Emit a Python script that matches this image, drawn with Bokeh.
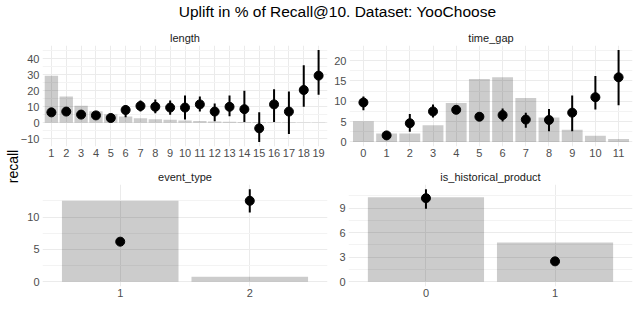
from bokeh.plotting import figure
from bokeh.layouts import column, row
from bokeh.models import FixedTicker, Range1d, ColumnDataSource
from bokeh.embed import file_html
from bokeh.resources import INLINE

FONT = "Liberation Sans"
TITLE = "Uplift in % of Recall@10. Dataset: YooChoose"
YLABEL = "recall"

# ---- panel: length
length_cats = [str(i) for i in range(1, 20)]
length_share = [29.5, 16.5, 10.7, 7.2, 5.3, 3.9, 2.8, 2.2, 1.8, 1.4, 1.1, 0.8, 0.6, 0.5, 0.4, 0.3, 0.25, 0.2, 0.15]
length_uplift = [6.5, 7.0, 5.1, 4.6, 3.0, 8.0, 10.5, 10.0, 9.5, 9.5, 11.5, 7.0, 10.0, 8.5, -3.5, 11.5, 7.0, 20.5, 29.5]
length_lo = [5.9, 6.2, 4.3, 3.8, 2.2, 3.5, 7.0, 6.0, 5.0, 2.0, 7.0, 1.0, 4.0, 0.5, -12.0, 0.5, -7.0, 10.0, 17.5]
length_hi = [7.1, 7.8, 5.9, 5.4, 3.8, 11.0, 14.0, 14.5, 14.0, 17.0, 16.5, 12.0, 17.0, 20.0, 6.5, 21.0, 19.5, 36.0, 45.5]
length_yticks = [-10, 0, 10, 20, 30, 40]
length_yminor = [-5, 5, 15, 25, 35, 45]

# ---- panel: time_gap
gap_cats = [str(i) for i in range(0, 12)]
gap_share = [5.1, 2.1, 2.1, 4.1, 9.6, 15.5, 15.9, 10.8, 6.0, 3.0, 1.5, 0.7]
gap_uplift = [9.7, 1.6, 4.6, 7.5, 7.9, 6.2, 6.6, 5.5, 5.4, 7.2, 11.0, 15.9]
gap_lo = [7.8, 0.8, 2.5, 6.0, 7.0, 5.3, 5.0, 3.5, 2.6, 2.6, 8.0, 9.0]
gap_hi = [11.2, 2.6, 6.9, 9.2, 8.6, 7.2, 8.2, 7.2, 8.1, 11.4, 16.2, 22.6]
gap_yticks = [0, 5, 10, 15, 20]
gap_yminor = [2.5, 7.5, 12.5, 17.5, 22.5]

# ---- panel: event_type
event_cats = ["1", "2"]
event_share = [12.5, 0.8]
event_uplift = [6.2, 12.5]
event_lo = [5.9, 10.7]
event_hi = [6.5, 14.3]
event_yticks = [0, 5, 10]
event_yminor = [2.5, 7.5, 12.5]

# ---- panel: is_historical_product
hist_cats = ["0", "1"]
hist_share = [10.3, 4.8]
hist_uplift = [10.2, 2.5]
hist_lo = [8.9, 2.2]
hist_hi = [11.3, 2.8]
hist_yticks = [0, 3, 6, 9]
hist_yminor = [1.5, 4.5, 7.5, 10.5]


def expand(lo_vals, hi_vals, share):
    lo = min(min(lo_vals), 0.0)
    hi = max(max(hi_vals), max(share))
    pad = (hi - lo) * 0.05
    return lo - pad, hi + pad


def panel(name, cats, share, uplift, lo, hi, yticks, yminor, width, height, bl, br, bt, bb):
    n = len(cats)
    xs = list(range(1, n + 1))
    y0, y1 = expand(lo, hi, share)
    p = figure(width=width, height=height, output_backend="svg", toolbar_location=None,
               x_range=Range1d(0.4, n + 0.6), y_range=Range1d(y0, y1),
               min_border_left=bl, min_border_right=br, min_border_top=bt, min_border_bottom=bb,
               title=name)
    p.outline_line_color = None
    p.border_fill_color = None
    p.title.align = "center"
    p.title.text_font = FONT
    p.title.text_font_size = "11px"
    p.title.text_font_style = "normal"
    p.title.text_color = "#1a1a1a"
    p.title.standoff = 4
    src = ColumnDataSource(dict(x=xs, share=share, uplift=uplift, lo=lo, hi=hi))
    p.vbar(x="x", top="share", width=0.9, source=src, fill_color="black", fill_alpha=0.2, line_color=None)
    p.segment(x0="x", y0="lo", x1="x", y1="hi", source=src, line_color="black", line_width=2)
    p.scatter(x="x", y="uplift", source=src, size=9, color="black")

    p.xaxis.ticker = FixedTicker(ticks=xs)
    p.xaxis.major_label_overrides = {x: c for x, c in zip(xs, cats)}
    p.yaxis.ticker = FixedTicker(ticks=yticks, minor_ticks=yminor)
    p.xgrid.ticker = FixedTicker(ticks=xs)
    for ax in (p.xaxis, p.yaxis):
        ax.axis_line_color = None
        ax.major_tick_line_color = None
        ax.minor_tick_line_color = None
        ax.major_tick_out = 0
        ax.major_tick_in = 0
        ax.minor_tick_out = 0
        ax.minor_tick_in = 0
        ax.major_label_text_font = FONT
        ax.major_label_text_font_size = "11px"
        ax.major_label_text_color = "#4d4d4d"
    p.xaxis.major_label_standoff = 2
    p.yaxis.major_label_standoff = 3
    p.grid.grid_line_color = "#ebebeb"
    p.grid.grid_line_width = 1
    p.ygrid.minor_grid_line_color = "#f3f3f3"
    p.ygrid.minor_grid_line_width = 1
    return p


# overall title
tfig = figure(width=640, height=27, output_backend="svg", toolbar_location=None,
              min_border_left=42, min_border_right=8, min_border_top=5, min_border_bottom=0,
              title=TITLE)
tfig.title.align = "center"
tfig.title.text_font = FONT
tfig.title.text_font_size = "15.5px"
tfig.title.text_font_style = "normal"
tfig.title.text_color = "black"
tfig.title.standoff = 0
tfig.axis.visible = False
tfig.grid.visible = False
tfig.outline_line_color = None

# shared y-axis label
yfig = figure(width=21, height=293, output_backend="svg", toolbar_location=None,
              min_border_left=20, min_border_right=0, min_border_top=0, min_border_bottom=15,
              x_range=Range1d(0, 1), y_range=Range1d(0, 1))
yfig.xaxis.visible = False
yfig.grid.visible = False
yfig.outline_line_color = None
yfig.yaxis.axis_label = YLABEL
yfig.yaxis.axis_label_text_font = FONT
yfig.yaxis.axis_label_text_font_size = "14px"
yfig.yaxis.axis_label_text_font_style = "normal"
yfig.yaxis.axis_label_text_color = "black"
yfig.yaxis.axis_label_standoff = 0
yfig.yaxis.major_label_text_font_size = "0px"
yfig.yaxis.major_label_standoff = 0
yfig.yaxis.major_tick_out = 0
yfig.yaxis.major_tick_in = 0
yfig.yaxis.minor_tick_out = 0
yfig.yaxis.minor_tick_in = 0
yfig.yaxis.major_tick_line_color = None
yfig.yaxis.minor_tick_line_color = None
yfig.yaxis.axis_line_color = None
yfig.yaxis.ticker = FixedTicker(ticks=[])

p1 = panel("length", length_cats, length_share, length_uplift, length_lo, length_hi,
           length_yticks, length_yminor, 315, 135, 26, 4, 18, 16)
p1.margin = (0, 0, 0, -5)
p2 = panel("time_gap", gap_cats, gap_share, gap_uplift, gap_lo, gap_hi,
           gap_yticks, gap_yminor, 309, 135, 17, 8, 18, 16)
p3 = panel("event_type", event_cats, event_share, event_uplift, event_lo, event_hi,
           event_yticks, event_yminor, 310, 158, 21, 4, 22, 34)
p4 = panel("is_historical_product", hist_cats, hist_share, hist_uplift, hist_lo, hist_hi,
           hist_yticks, hist_yminor, 309, 158, 17, 8, 22, 34)

grid = column(row(p1, p2, spacing=0), row(p3, p4, spacing=0), spacing=0)
layout = column(tfig, row(yfig, grid, spacing=0), spacing=0)

open("out.html", "w").write(file_html(layout, INLINE))
